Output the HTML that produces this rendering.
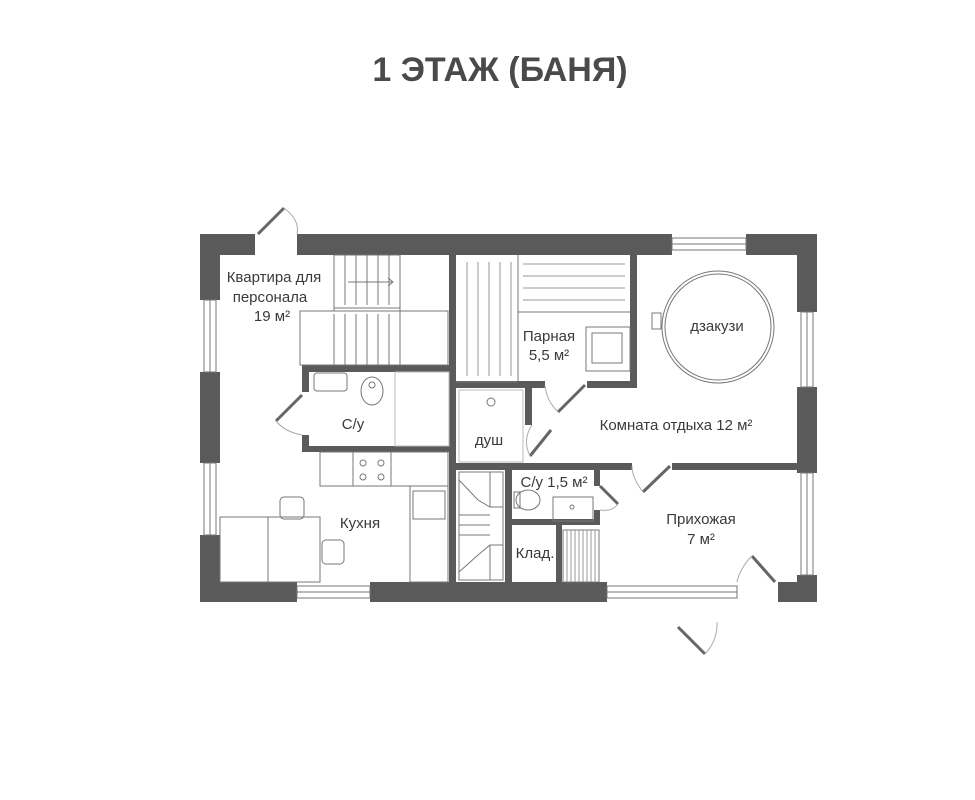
<!DOCTYPE html>
<html><head><meta charset="utf-8"><style>
html,body{margin:0;padding:0;background:#fff;width:975px;height:800px;overflow:hidden}
svg{display:block}
text{font-family:"Liberation Sans",sans-serif;fill:#3a3a3a}
</style></head><body>
<svg width="975" height="800" viewBox="0 0 975 800" xmlns="http://www.w3.org/2000/svg">
<text x="500" y="81" font-size="34" font-weight="bold" text-anchor="middle" style="fill:#4a4a4a">1 ЭТАЖ (БАНЯ)</text>

<g fill="#5a5a5a">
<rect x="200" y="234" width="55" height="21"/>
<rect x="297" y="234" width="375" height="21"/>
<rect x="746" y="234" width="71" height="21"/>
<rect x="200" y="234" width="20" height="66"/>
<rect x="200" y="372" width="20" height="91"/>
<rect x="200" y="535" width="20" height="67"/>
<rect x="797" y="234" width="20" height="78"/>
<rect x="797" y="387" width="20" height="86"/>
<rect x="778" y="582" width="39" height="20"/>
<rect x="797" y="575" width="20" height="27"/>
<rect x="200" y="582" width="97" height="20"/>
<rect x="370" y="582" width="237" height="20"/>
<rect x="449" y="255" width="7" height="327"/>
<rect x="302" y="365" width="148" height="7"/>
<rect x="302" y="365" width="7" height="27"/>
<rect x="302" y="435" width="7" height="17"/>
<rect x="302" y="446" width="148" height="6"/>
<rect x="456" y="381" width="89" height="7"/>
<rect x="587" y="381" width="49" height="7"/>
<rect x="630" y="255" width="7" height="133"/>
<rect x="525" y="388" width="7" height="37"/>
<rect x="456" y="463" width="176" height="7"/>
<rect x="672" y="463" width="125" height="7"/>
<rect x="505" y="470" width="7" height="112"/>
<rect x="594" y="470" width="6" height="16"/>
<rect x="594" y="510" width="6" height="15"/>
<rect x="508" y="519" width="92" height="6"/>
<rect x="556" y="525" width="6" height="57"/>
</g>

<g fill="none" stroke="#777" stroke-width="1">
<rect x="204" y="300" width="12" height="72"/><line x1="210" y1="300" x2="210" y2="372"/>
<rect x="204" y="463" width="12" height="72"/><line x1="210" y1="463" x2="210" y2="535"/>
<rect x="801" y="312" width="12" height="75"/><line x1="807" y1="312" x2="807" y2="387"/>
<rect x="801" y="473" width="12" height="102"/><line x1="807" y1="473" x2="807" y2="575"/>
<rect x="672" y="238" width="74" height="12"/><line x1="672" y1="244" x2="746" y2="244"/>
<rect x="297" y="586" width="73" height="12"/><line x1="297" y1="592" x2="370" y2="592"/>
<rect x="607" y="586" width="130" height="12"/><line x1="607" y1="592" x2="737" y2="592"/>
<rect x="334" y="255" width="66" height="56"/>
<rect x="300" y="311" width="148" height="54"/>
<line x1="334" y1="308" x2="400" y2="308"/>
<line x1="345" y1="255" x2="345" y2="305"/><line x1="356" y1="255" x2="356" y2="305"/><line x1="367" y1="255" x2="367" y2="305"/><line x1="378" y1="255" x2="378" y2="305"/><line x1="389" y1="255" x2="389" y2="305"/>
<line x1="334" y1="314" x2="334" y2="365"/><line x1="345" y1="314" x2="345" y2="365"/><line x1="356" y1="314" x2="356" y2="365"/><line x1="367" y1="314" x2="367" y2="365"/><line x1="378" y1="314" x2="378" y2="365"/><line x1="389" y1="314" x2="389" y2="365"/><line x1="400" y1="311" x2="400" y2="365"/>
<line x1="348" y1="282" x2="393" y2="282"/><polyline points="388,278 393,282 388,286"/>
<line x1="456" y1="382" x2="518" y2="382"/>
<line x1="518" y1="255" x2="518" y2="381"/>
<line x1="518" y1="312" x2="630" y2="312"/>
<g stroke="#999"><line x1="467" y1="262" x2="467" y2="376"/><line x1="478" y1="262" x2="478" y2="376"/><line x1="489" y1="262" x2="489" y2="376"/><line x1="500" y1="262" x2="500" y2="376"/><line x1="511" y1="262" x2="511" y2="376"/>
<line x1="523" y1="264" x2="625" y2="264"/><line x1="523" y1="276" x2="625" y2="276"/><line x1="523" y1="288" x2="625" y2="288"/><line x1="523" y1="300" x2="625" y2="300"/></g>
<rect x="586" y="327" width="44" height="44"/><rect x="592" y="333" width="30" height="30"/>
<circle cx="718" cy="327" r="56"/><circle cx="718" cy="327" r="53"/>
<rect x="652" y="313" width="9" height="16"/>
<rect x="314" y="373" width="33" height="18" rx="3"/>
<ellipse cx="372" cy="391" rx="11" ry="14"/><circle cx="372" cy="385" r="3"/>
<rect x="395" y="372" width="54" height="74" stroke="#bbb"/>
<rect x="459" y="390" width="64" height="72" stroke="#bbb"/>
<circle cx="491" cy="402" r="4"/>
<rect x="320" y="452" width="128" height="34"/>
<rect x="353" y="452" width="38" height="34"/>
<circle cx="363" cy="463" r="3"/><circle cx="381" cy="463" r="3"/><circle cx="363" cy="477" r="3"/><circle cx="381" cy="477" r="3"/>
<rect x="410" y="486" width="38" height="96"/><rect x="413" y="491" width="32" height="28"/>
<rect x="220" y="517" width="48" height="65"/>
<rect x="268" y="517" width="52" height="65"/>
<rect x="280" y="497" width="24" height="22" rx="4"/>
<rect x="322" y="540" width="22" height="24" rx="4"/>
<rect x="459" y="472" width="44" height="108"/>
<line x1="490" y1="472" x2="490" y2="507"/><line x1="490" y1="545" x2="490" y2="580"/>
<polyline points="459,480 478,500 490,507 503,507"/>
<polyline points="459,572 478,555 490,545 503,545"/>
<line x1="459" y1="515" x2="490" y2="515"/><line x1="459" y1="525" x2="490" y2="525"/><line x1="459" y1="535" x2="490" y2="535"/>
<ellipse cx="528" cy="500" rx="12" ry="10"/><rect x="514" y="492" width="6" height="16"/>
<rect x="553" y="497" width="40" height="24"/><circle cx="572" cy="507" r="2"/>
<rect x="563" y="530" width="36" height="52"/>
<g stroke="#999"><line x1="567" y1="530" x2="567" y2="582"/><line x1="571" y1="530" x2="571" y2="582"/><line x1="575" y1="530" x2="575" y2="582"/><line x1="579" y1="530" x2="579" y2="582"/><line x1="583" y1="530" x2="583" y2="582"/><line x1="587" y1="530" x2="587" y2="582"/><line x1="591" y1="530" x2="591" y2="582"/><line x1="595" y1="530" x2="595" y2="582"/></g>
</g>

<g stroke="#666" stroke-width="3" fill="none">
<line x1="258" y1="234" x2="284" y2="208"/>
<line x1="302" y1="395" x2="276" y2="421"/>
<line x1="585" y1="385" x2="558" y2="412"/>
<line x1="551" y1="430" x2="530" y2="456"/>
<line x1="670" y1="466" x2="643" y2="492"/>
<line x1="600" y1="486" x2="618" y2="504"/>
<line x1="752" y1="556" x2="775" y2="582"/>
<line x1="678" y1="627" x2="705" y2="654"/>
</g>
<g stroke="#aaa" stroke-width="1" fill="none">
<path d="M284,208 Q300,220 297,234"/>
<path d="M276,421 Q285,432 302,435"/>
<path d="M558,412 Q546,400 545,385"/>
<path d="M530,456 Q522,440 532,425"/>
<path d="M643,492 Q632,478 632,466"/>
<path d="M618,504 Q612,512 600,510"/>
<path d="M752,556 Q740,568 737,582"/>
<path d="M705,654 Q718,640 717,622"/>
</g>

<g font-size="15" text-anchor="middle">
<text x="274" y="282">Квартира для</text>
<text x="270" y="302">персонала</text>
<text x="272" y="321">19 м²</text>
<text x="353" y="429">С/у</text>
<text x="549" y="341">Парная</text>
<text x="549" y="360">5,5 м²</text>
<text x="717" y="331">дзакузи</text>
<text x="676" y="430">Комната отдыха 12 м²</text>
<text x="489" y="445">душ</text>
<text x="554" y="487">С/у 1,5 м²</text>
<text x="360" y="528">Кухня</text>
<text x="535" y="558">Клад.</text>
<text x="701" y="524">Прихожая</text>
<text x="701" y="544">7 м²</text>
</g>
</svg>
</body></html>
